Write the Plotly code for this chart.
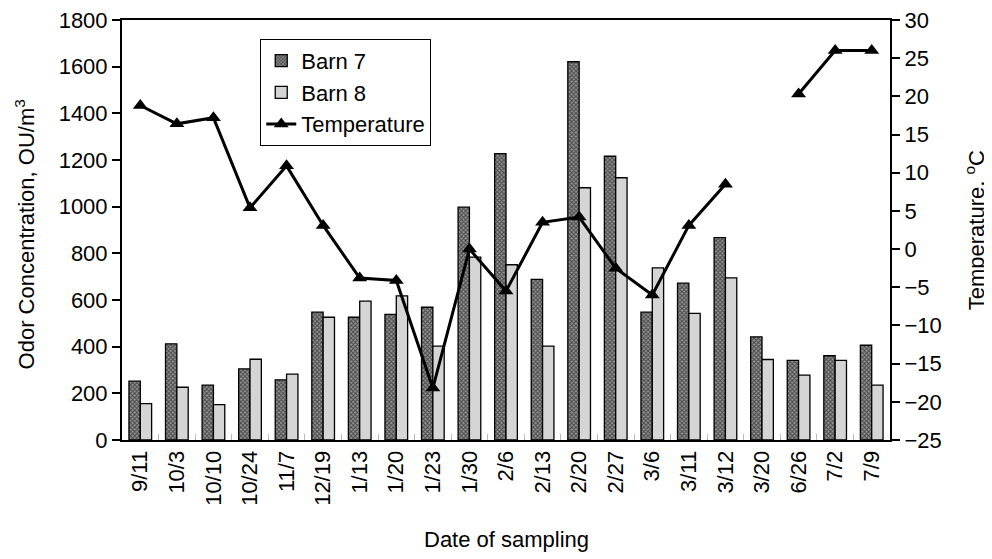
import plotly.graph_objects as go

dates = ["9/11", "10/3", "10/10", "10/24", "11/7", "12/19", "1/13", "1/20", "1/23", "1/30",
         "2/6", "2/13", "2/20", "2/27", "3/6", "3/11", "3/12", "3/20", "6/26", "7/2", "7/9"]
barn7 = [252, 412, 235, 305, 258, 548, 526, 538, 569, 998,
         1227, 688, 1621, 1216, 548, 672, 867, 442, 341, 361, 406]
barn8 = [156, 226, 152, 346, 282, 526, 595, 618, 402, 784,
         751, 402, 1081, 1124, 738, 543, 695, 345, 278, 341, 235]
temperature = [18.8, 16.4, 17.2, 5.4, 10.9, 3.1, -3.8, -4.1, -18.2, 0.0,
               -5.5, 3.5, 4.2, -2.5, -6.0, 3.1, 8.5, None, 20.3, 26.0, 26.0]

FONT = "Liberation Sans, Arial, sans-serif"
FS = 22

fig = go.Figure()
fig.add_trace(go.Bar(
    x=dates, y=barn7, name="Barn 7",
    marker=dict(color="white", line=dict(color="black", width=1.3),
                pattern=dict(shape="x", size=3, solidity=0.6, fgcolor="#000000", bgcolor="#9a9a9a")),
))
fig.add_trace(go.Bar(
    x=dates, y=barn8, name="Barn 8",
    marker=dict(color="#d6d6d6", line=dict(color="black", width=1.3),
                pattern=dict(shape="|", size=2, solidity=0.4, fgcolor="#a8a8a8", bgcolor="#e0e0e0")),
))
fig.add_trace(go.Scatter(
    x=dates, y=temperature, name="Temperature", yaxis="y2",
    mode="lines+markers", connectgaps=False,
    line=dict(color="black", width=3),
    marker=dict(symbol="triangle-up", size=13, color="black"),
))

fig.update_layout(
    width=992, height=559,
    margin=dict(l=114, r=110, t=12, b=127),
    paper_bgcolor="white", plot_bgcolor="white",
    font=dict(family=FONT, size=FS, color="black"),
    barmode="group", bargap=0.38, bargroupgap=0,
    showlegend=True,
    legend=dict(x=0.18, y=0.955, xanchor="left", yanchor="top",
                bordercolor="black", borderwidth=1, bgcolor="white",
                font=dict(family=FONT, size=FS), tracegroupgap=0),
    xaxis=dict(
        type="category", range=[-0.5, len(dates) - 0.5],
        showline=True, linecolor="black", linewidth=2, mirror=True,
        ticks="inside", tickson="boundaries", ticklen=6, tickcolor="#bbbbbb", tickwidth=1,
        tickangle=-90, showgrid=False, automargin=False, ticklabeloverflow="allow",
    ),
    yaxis=dict(
        range=[0, 1800], dtick=200, showline=True, linecolor="black", linewidth=2,
        ticks="outside", ticklen=8, tickwidth=1.5, tickcolor="black", showgrid=False,
        zeroline=False, automargin=False, ticklabeloverflow="allow",
    ),
    yaxis2=dict(
        range=[-25, 30], dtick=5, overlaying="y", side="right",
        showline=True, linecolor="black", linewidth=2,
        ticks="outside", ticklen=8, tickwidth=1.5, tickcolor="black", showgrid=False,
        zeroline=False, automargin=False, ticklabeloverflow="allow",
    ),
    annotations=[
        dict(text="Odor Concentration, OU/m<sup>3</sup>", xref="paper", yref="paper",
             x=-0.126, y=0.49, xanchor="center", yanchor="middle", textangle=-90,
             showarrow=False, font=dict(size=FS)),
        dict(text="Temperature, <sup>o</sup>C", xref="paper", yref="paper",
             x=1.111, y=0.5, xanchor="center", yanchor="middle", textangle=-90,
             showarrow=False, font=dict(size=FS)),
        dict(text="Date of sampling", xref="paper", yref="paper",
             x=0.5, y=-0.238, xanchor="center", yanchor="middle",
             showarrow=False, font=dict(size=FS)),
    ],
)

fig.write_html("out.html")
